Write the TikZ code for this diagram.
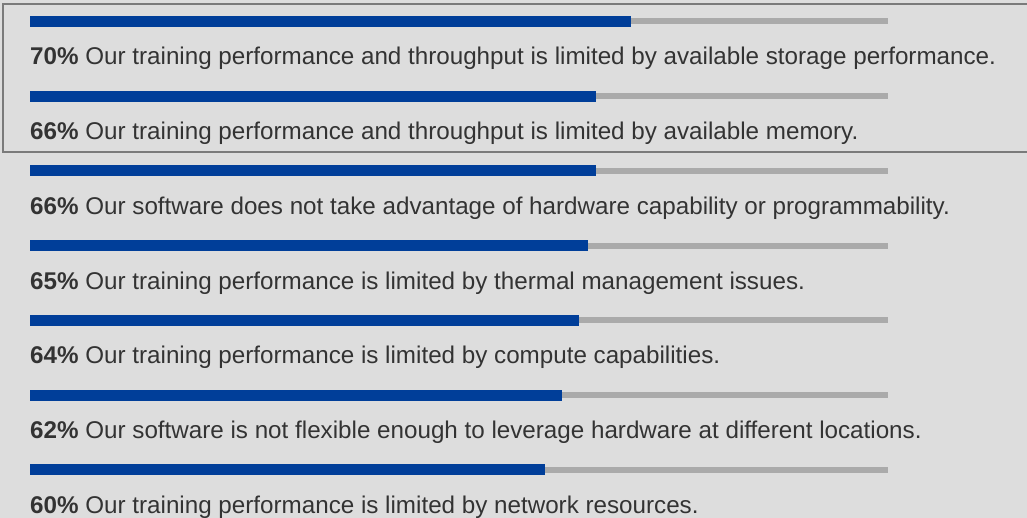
\documentclass[tikz,border=0pt]{standalone}
\usepackage{fontspec}
\setmainfont{Liberation Sans}
\definecolor{bg}{HTML}{DDDDDD}
\definecolor{barblue}{HTML}{003E99}
\definecolor{bargray}{HTML}{AAAAAA}
\definecolor{txt}{HTML}{333333}
\definecolor{frame}{HTML}{7A7A7A}
\tikzset{
  label/.style={anchor=base west, inner sep=0pt, text=txt, font=\fontsize{24.2}{27}\selectfont},
  track/.style={draw=bargray, line width=6pt},
  fill bar/.style={draw=barblue, line width=11pt},
}
\begin{document}
\begin{tikzpicture}[x=1pt,y=-1pt]
\fill[bg] (0,0) rectangle (1027,518);
\useasboundingbox (0,0) rectangle (1027,518);
% highlight frame around the first two items
\draw[frame, line width=2pt] (3,4) rectangle (1035,152);
\foreach \p/\t [count=\i from 0] in {
  70/{Our training performance and throughput is limited by available storage performance.},
  66/{Our training performance and throughput is limited by available memory.},
  66/{Our software does not take advantage of hardware capability or programmability.},
  65/{Our training performance is limited by thermal management issues.},
  64/{Our training performance is limited by compute capabilities.},
  62/{Our software is not flexible enough to leverage hardware at different locations.},
  60/{Our training performance is limited by network resources.}}{
  \pgfmathsetmacro{\yb}{21.5+74.7*\i}
  \pgfmathsetmacro{\yt}{65+74.7*\i}
  \pgfmathsetmacro{\xe}{30+8.58*\p}
  \coordinate (s\i) at (30,\yb);
  \coordinate (e\i) at (\xe,\yb);
  \coordinate (f\i) at (888,\yb);
  \draw[track] (e\i) -- (f\i);
  \draw[fill bar] (s\i) -- (e\i);
  \node[label] (t\i) at (30,\yt) {\textbf{\p\%} \t};
}
\end{tikzpicture}
\end{document}
